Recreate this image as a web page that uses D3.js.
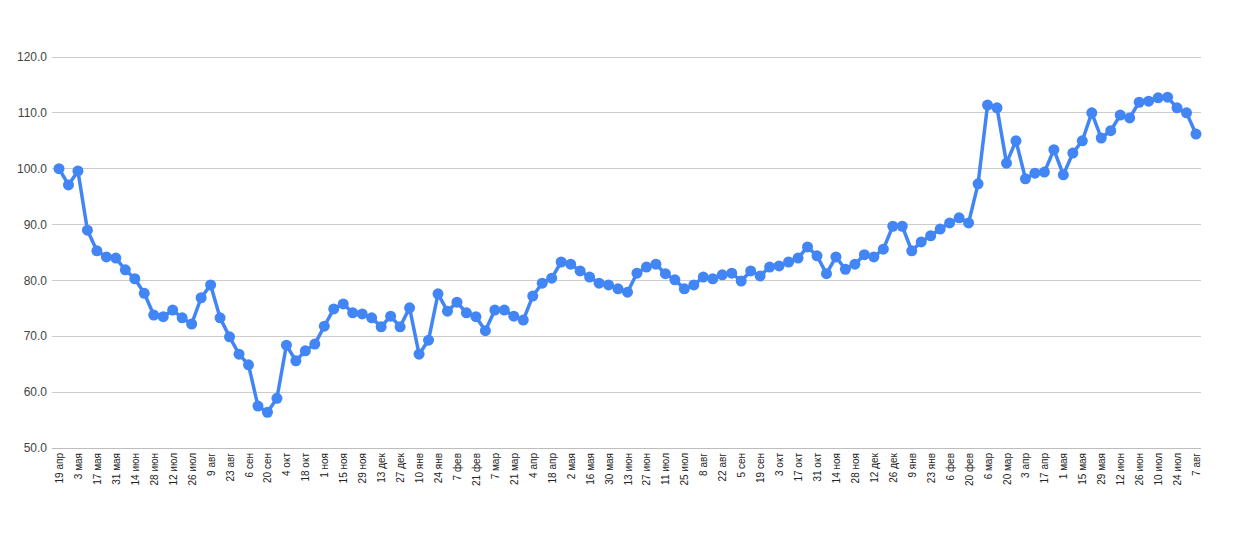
<!DOCTYPE html>
<html>
<head>
<meta charset="utf-8">
<script src="https://cdn.jsdelivr.net/npm/d3@7"></script>
<style>
  body { margin: 0; background: #fff; }
  svg { display: block; font-family: Arial, "Liberation Sans", sans-serif; }
</style>
</head>
<body>
<svg id="chart" width="1237" height="543"></svg>
<script>
// weekly values, 19 apr 2020 .. 7 aug 2022
var values = [
  100.0, 97.1, 99.6, 89.0, 85.3, 84.2, 84.0, 81.9, 80.3, 77.7,
  73.8, 73.5, 74.7, 73.3, 72.2, 76.9, 79.2, 73.3, 69.9, 66.8,
  64.9, 57.5, 56.4, 58.9, 68.4, 65.6, 67.4, 68.6, 71.8, 74.9,
  75.8, 74.2, 74.0, 73.3, 71.7, 73.6, 71.7, 75.1, 66.8, 69.3,
  77.6, 74.5, 76.1, 74.2, 73.5, 71.0, 74.7, 74.7, 73.6, 72.9,
  77.2, 79.5, 80.4, 83.3, 82.9, 81.7, 80.6, 79.5, 79.2, 78.5,
  77.9, 81.3, 82.4, 82.9, 81.2, 80.1, 78.5, 79.2, 80.6, 80.3,
  81.0, 81.3, 79.9, 81.7, 80.8, 82.4, 82.6, 83.3, 84.0, 86.0,
  84.4, 81.2, 84.2, 82.0, 82.9, 84.6, 84.2, 85.6, 89.7, 89.7,
  85.3, 86.9, 88.0, 89.2, 90.3, 91.2, 90.3, 97.3, 111.4, 110.9,
  101.0, 105.0, 98.2, 99.2, 99.4, 103.4, 98.9, 102.8, 105.0, 110.0,
  105.5, 106.8, 109.6, 109.1, 111.9, 112.1, 112.7, 112.8, 110.9, 110.0,
  106.2
];

// one label every second week
var tickLabels = [
  "19 апр", "3 мая", "17 мая", "31 мая", "14 июн", "28 июн", "12 июл", "26 июл",
  "9 авг", "23 авг", "6 сен", "20 сен", "4 окт", "18 окт", "1 ноя", "15 ноя",
  "29 ноя", "13 дек", "27 дек", "10 янв", "24 янв", "7 фев", "21 фев", "7 мар",
  "21 мар", "4 апр", "18 апр", "2 мая", "16 мая", "30 мая", "13 июн", "27 июн",
  "11 июл", "25 июл", "8 авг", "22 авг", "5 сен", "19 сен", "3 окт", "17 окт",
  "31 окт", "14 ноя", "28 ноя", "12 дек", "26 дек", "9 янв", "23 янв", "6 фев",
  "20 фев", "6 мар", "20 мар", "3 апр", "17 апр", "1 мая", "15 мая", "29 мая",
  "12 июн", "26 июн", "10 июл", "24 июл", "7 авг"
];

var yTicks = [50, 60, 70, 80, 90, 100, 110, 120];

var svg = d3.select("#chart");
const plotLeft = 52;
const plotRight = 1201;
const lineBlue = "#4285f4";

var x = d3.scalePoint()
    .domain(d3.range(values.length))
    .range([59, 1196]);

var y = d3.scaleLinear()
    .domain([50, 120])
    .range([448, 57]);

// gridlines
svg.append("g")
    .selectAll("line")
    .data(yTicks)
    .enter()
    .append("line")
    .attr("x1", plotLeft)
    .attr("x2", plotRight)
    .attr("y1", d => y(d))
    .attr("y2", d => y(d))
    .attr("stroke", d => d === 50 ? "#bdbdbd" : "#cccccc")
    .attr("stroke-width", 1)
    .attr("shape-rendering", "crispEdges");

// y labels
svg.append("g")
    .selectAll("text")
    .data(yTicks)
    .enter()
    .append("text")
    .attr("x", 47)
    .attr("y", d => y(d))
    .attr("dy", "0.35em")
    .attr("text-anchor", "end")
    .attr("font-size", "12px")
    .attr("fill", "#444")
    .text(d => d.toFixed(1));

// x labels, rotated
svg.append("g")
    .selectAll("text")
    .data(tickLabels)
    .enter()
    .append("text")
    .attr("transform", (d, i) => "translate(" + (x(i * 2) + 4) + ",453) rotate(-90)")
    .attr("text-anchor", "end")
    .attr("font-size", "10px")
    .attr("fill", "#222")
    .text(d => d);

// line
var line = d3.line()
    .x((d, i) => x(i))
    .y(d => y(d));

svg.append("path")
    .datum(values)
    .attr("d", line)
    .attr("fill", "none")
    .attr("stroke", lineBlue)
    .attr("stroke-width", 3.5)
    .attr("stroke-linejoin", "round");

svg.append("g")
    .selectAll("circle")
    .data(values)
    .enter()
    .append("circle")
    .attr("cx", (d, i) => x(i))
    .attr("cy", d => y(d))
    .attr("r", 5.5)
    .attr("fill", lineBlue);
</script>
</body>
</html>
